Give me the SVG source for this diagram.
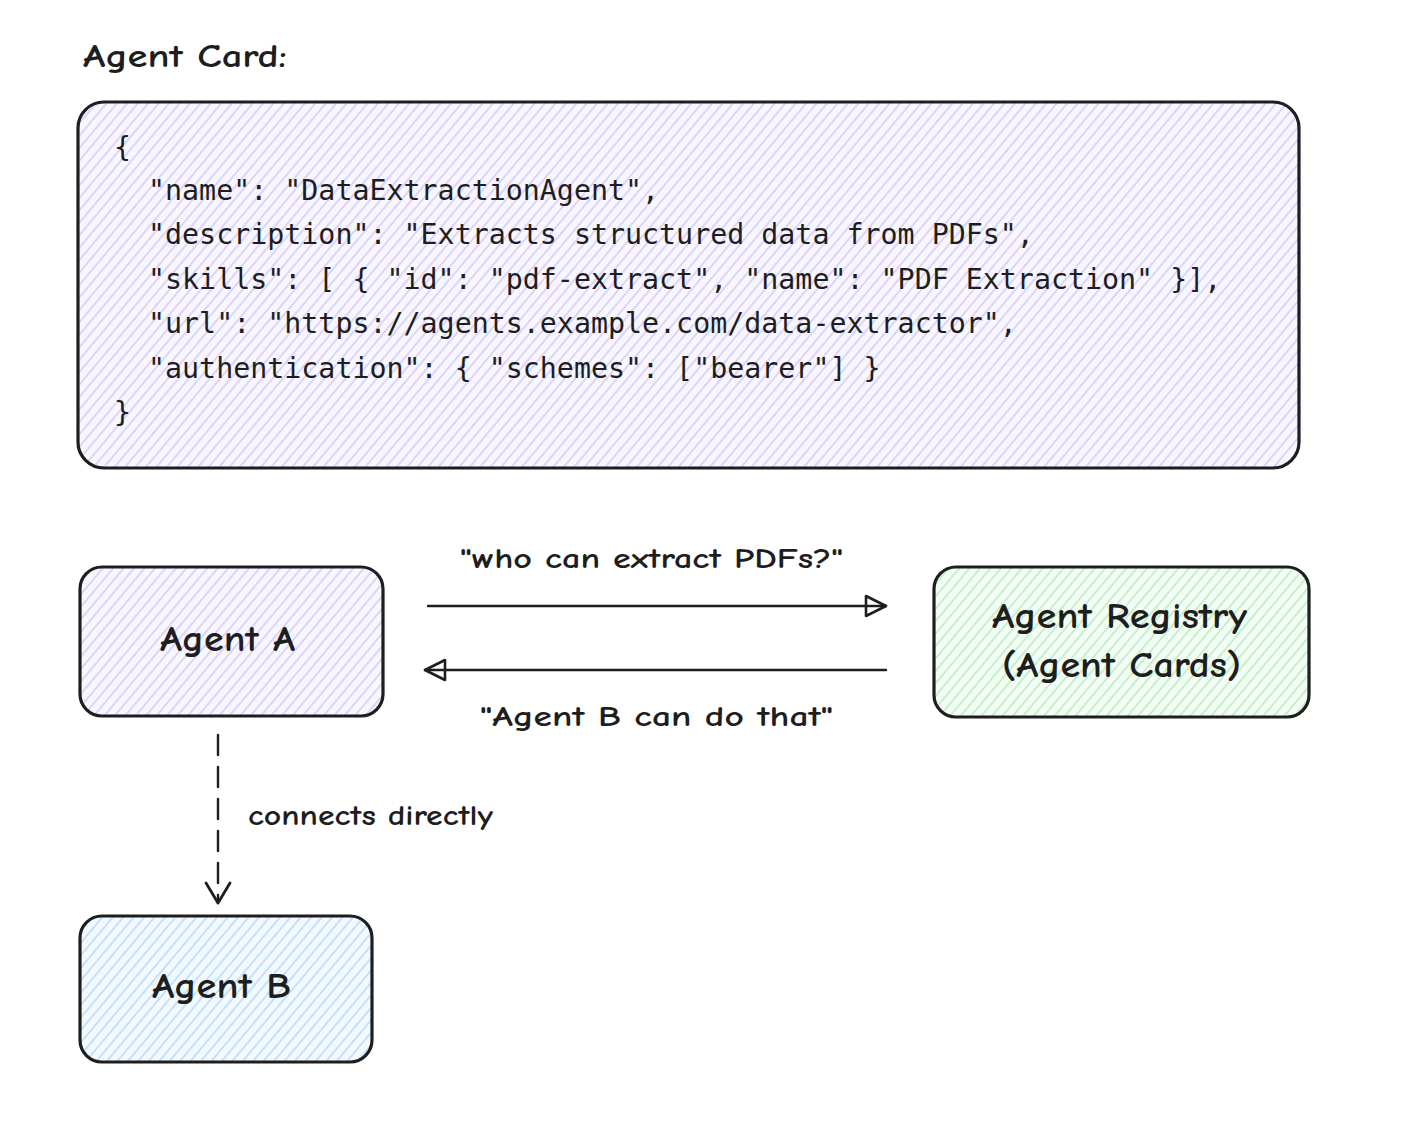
<svg xmlns="http://www.w3.org/2000/svg" width="1402" height="1122" viewBox="0 0 1402 1122">
<style>
.hand{font-family:"Comic Neue","Liberation Sans",sans-serif;fill:#1e1e1e;font-weight:bold}
.code{font-family:"DejaVu Sans Mono",monospace;font-size:28.3px;fill:#1e1e1e}
.box{stroke:#1e1e1e;stroke-width:3.2}
.conn{stroke:#1e1e1e;stroke-width:2.4;fill:none;stroke-linecap:round}
</style>
<defs>
<pattern id="hP" width="8" height="8" patternUnits="userSpaceOnUse" patternTransform="rotate(40)">
<rect width="8" height="8" fill="#f8f6ff"/><line x1="4" y1="0" x2="4" y2="8" stroke="#c8b8f4" stroke-width="1.1"/>
</pattern>
<pattern id="hG" width="8" height="8" patternUnits="userSpaceOnUse" patternTransform="rotate(40)">
<rect width="8" height="8" fill="#f4fdf5"/><line x1="4" y1="0" x2="4" y2="8" stroke="#9fe6a9" stroke-width="1.1"/>
</pattern>
<pattern id="hB" width="8" height="8" patternUnits="userSpaceOnUse" patternTransform="rotate(40)">
<rect width="8" height="8" fill="#f3f9ff"/><line x1="4" y1="0" x2="4" y2="8" stroke="#9ccff7" stroke-width="1.1"/>
</pattern>
<marker id="tri" viewBox="0 0 24 24" refX="22" refY="12" markerWidth="24" markerHeight="24" markerUnits="userSpaceOnUse" orient="auto">
<path d="M2,2 L22,12 L2,22 Z" fill="none" stroke="#1e1e1e" stroke-width="2.6" stroke-linejoin="round"/>
</marker>
<marker id="vee" viewBox="0 0 24 28" refX="22" refY="14" markerWidth="24" markerHeight="28" markerUnits="userSpaceOnUse" orient="auto">
<path d="M2,2 L22,14 L2,26" fill="none" stroke="#1e1e1e" stroke-width="2.8" stroke-linecap="round" stroke-linejoin="round"/>
</marker>
</defs>
<rect width="1402" height="1122" fill="#ffffff"/>

<text class="hand" x="83" y="67" font-size="32" textLength="204" lengthAdjust="spacingAndGlyphs">Agent Card:</text>

<g id="agent-card">
<rect class="box" x="78" y="102" width="1221" height="366" rx="26" fill="url(#hP)"/>
<text class="code" x="114" y="157">{</text>
<text class="code" x="148" y="200">"name": "DataExtractionAgent",</text>
<text class="code" x="148" y="244">"description": "Extracts structured data from PDFs",</text>
<text class="code" x="148" y="289">"skills": [ { "id": "pdf-extract", "name": "PDF Extraction" }],</text>
<text class="code" x="148" y="333">"url": "https://agents.example.com/data-extractor",</text>
<text class="code" x="148" y="378">"authentication": { "schemes": ["bearer"] }</text>
<text class="code" x="114" y="422">}</text>
</g>

<g id="agent-a">
<rect class="box" x="80" y="567" width="303" height="149" rx="22" fill="url(#hP)"/>
<text class="hand" x="160" y="651" font-size="36" textLength="135" lengthAdjust="spacingAndGlyphs">Agent A</text>
</g>

<g id="agent-registry">
<rect class="box" x="934" y="567" width="375" height="150" rx="22" fill="url(#hG)"/>
<text class="hand" x="992" y="628" font-size="36" textLength="255" lengthAdjust="spacingAndGlyphs">Agent Registry</text>
<text class="hand" x="1002" y="677" font-size="36" textLength="239" lengthAdjust="spacingAndGlyphs">(Agent Cards)</text>
</g>

<g id="agent-b">
<rect class="box" x="80" y="916" width="292" height="146" rx="22" fill="url(#hB)"/>
<text class="hand" x="152" y="998" font-size="36" textLength="139" lengthAdjust="spacingAndGlyphs">Agent B</text>
</g>

<g id="connectors">
<line class="conn" x1="428" y1="606" x2="886" y2="606" marker-end="url(#tri)"/>
<line class="conn" x1="886" y1="670" x2="425" y2="670" marker-end="url(#tri)"/>
<line class="conn" x1="218" y1="735" x2="218" y2="903" stroke-width="2.8" stroke-dasharray="20 12" marker-end="url(#vee)"/>
<text class="hand" x="460" y="568" font-size="29" textLength="383" lengthAdjust="spacingAndGlyphs">"who can extract PDFs?"</text>
<text class="hand" x="480" y="726" font-size="29" textLength="353" lengthAdjust="spacingAndGlyphs">"Agent B can do that"</text>
<text class="hand" x="248" y="825" font-size="29" textLength="245" lengthAdjust="spacingAndGlyphs">connects directly</text>
</g>
</svg>
